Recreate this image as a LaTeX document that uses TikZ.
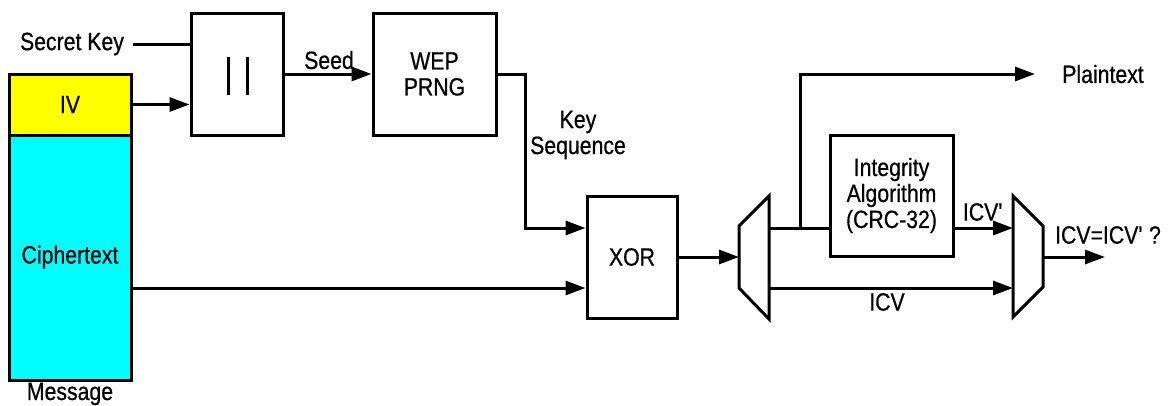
\documentclass[tikz,border=0pt]{standalone}
\usepackage{fontspec}
\setmainfont{Liberation Sans}[FakeStretch=0.85,FakeBold=0.6]
\usetikzlibrary{arrows.meta}
\begin{document}
\begin{tikzpicture}[x=1pt,y=-1pt,
  every node/.style={font=\fontsize{25}{27}\selectfont, inner sep=0pt},
  blk/.style={draw, line width=3pt, minimum width=#1},
  ln/.style={line width=3pt},
  arr/.style={line width=3pt, -{Triangle[length=20pt,width=14pt]}},
  lbl/.style={align=center}]
\useasboundingbox (0,0) rectangle (1172,405);
% message
\node[blk=122pt, minimum height=61pt, fill={rgb,255:red,255;green,255;blue,0}] (iv) at (70,104.5) {IV};
\node[blk=122pt, minimum height=245pt, fill={rgb,255:red,0;green,255;blue,255}] (ct) at (70,257.5) {};
\node at (70,257) {Ciphertext};
\node (msg) at (70,394) {Message};
\node (sk) at (72,44) {Secret Key};
% concat
\node[blk=92pt, minimum height=122pt] (cat) at (237,74) {};
\draw[ln] (228,57) -- (228,95) (247,57) -- (247,95);
% prng
\node[blk=123pt, minimum height=122pt, lbl] (wep) at (434.5,74) {WEP\\[-1pt]PRNG};
% xor
\node[blk=90pt, minimum height=122pt] (xor) at (632,257) {XOR};
% integrity
\node[blk=123pt, minimum height=121pt, lbl] (crc) at (891.5,195.5) {Integrity\\[-1pt]Algorithm\\[-1pt](CRC-32)};
% trapezoids
\draw[ln] (739,226) -- (769,196) -- (769,319) -- (739,288) -- cycle;
\coordinate (dmin) at (739,257);
\coordinate (dmo1) at (769,228);
\coordinate (dmo2) at (769,288);
\coordinate (junc) at (800,228);
\draw[ln] (1013,196) -- (1043,226) -- (1043,287) -- (1013,317) -- cycle;
\coordinate (cmi1) at (1013,228);
\coordinate (cmi2) at (1013,288);
\coordinate (cmo) at (1043,257);
\coordinate (pend) at (1035,74);
\coordinate (oend) at (1105,257);
% labels
\node (seed) at (329,60) {Seed};
\node[lbl] (ks) at (578,135) {Key\\[-1pt]Sequence};
\node (pt) at (1103,74) {Plaintext};
\node (icvp) at (983,212) {ICV\textquotesingle};
\node (icv) at (887,302) {ICV};
\node (eq) at (1108,235) {ICV=ICV\textquotesingle\ ?};
% connectors
\draw[ln] (sk.east) ++(9,0) -- (cat.west |- sk);
\draw[arr] (iv.east) -- (cat.west |- iv);
\draw[arr] (cat.east) -- (wep.west);
\draw[arr] (wep.east) -- (525,74) |- (xor.west |- 0,228);
\draw[arr] (ct.east |- 0,288) -- (xor.west |- 0,288);
\draw[arr] (xor.east) -- (dmin);
\draw[ln] (dmo1) -- (crc.west |- dmo1);
\draw[arr] (junc) -- (800,74) -- (pend);
\draw[arr] (crc.east |- cmi1) -- (cmi1);
\draw[arr] (dmo2) -- (cmi2);
\draw[arr] (cmo) -- (oend);
\end{tikzpicture}
\end{document}
